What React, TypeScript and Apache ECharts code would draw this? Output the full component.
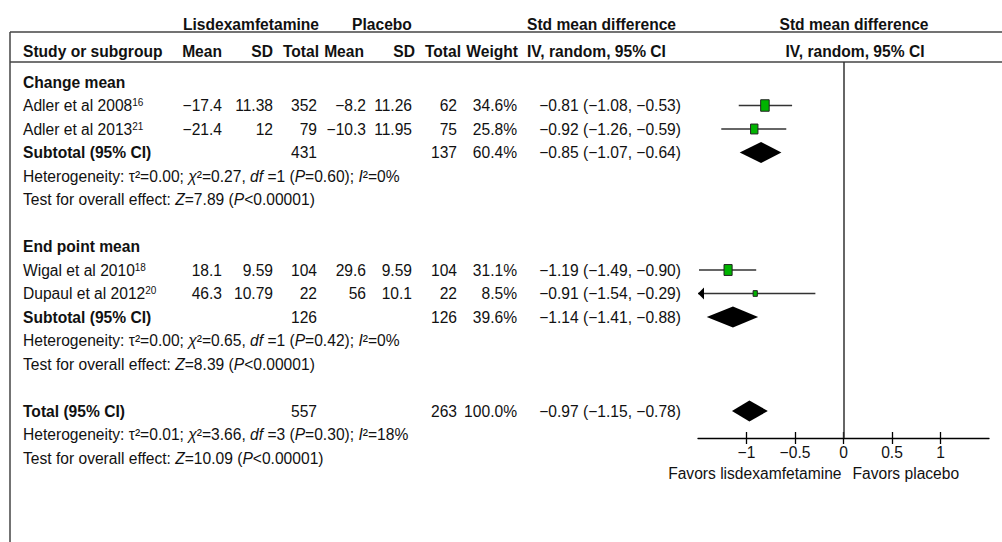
import React, { useEffect, useRef } from "react";
import * as echarts from "echarts";

const FONT = 'Arial, "Liberation Sans", Helvetica, sans-serif';
const FS = 15.6;

// ---- data ----
const groupNames = ["Change mean", "End point mean"];
const groupStudies = [[0, 1], [2, 3]];

const studyNames = ["Adler et al 2008", "Adler et al 2013", "Wigal et al 2010", "Dupaul et al 2012"];
const studyRefs = ["16", "21", "18", "20"];
const lisMean = [-17.4, -21.4, 18.1, 46.3];
const lisSD = [11.38, 12, 9.59, 10.79];
const lisN = [352, 79, 104, 22];
const plaMean = [-8.2, -10.3, 29.6, 56];
const plaSD = [11.26, 11.95, 9.59, 10.1];
const plaN = [62, 75, 104, 22];
const studyWeight = [34.6, 25.8, 31.1, 8.5];
const studySmd = [-0.81, -0.92, -1.19, -0.91];
const studyLow = [-1.08, -1.26, -1.49, -1.54];
const studyHigh = [-0.53, -0.59, -0.9, -0.29];

const subLisN = [431, 126];
const subPlaN = [137, 126];
const subWeight = [60.4, 39.6];
const subSmd = [-0.85, -1.14];
const subLow = [-1.07, -1.41];
const subHigh = [-0.64, -0.88];
const subTau = [0.0, 0.0];
const subChi = [0.27, 0.65];
const subDf = [1, 1];
const subP = [0.6, 0.42];
const subI2 = [0, 0];
const subZ = [7.89, 8.39];

const totalLisN = 557;
const totalPlaN = 263;
const totalWeight = 100.0;
const totalSmd = -0.97;
const totalLow = -1.15;
const totalHigh = -0.78;
const totalTau = 0.01;
const totalChi = 3.66;
const totalDf = 3;
const totalP = 0.3;
const totalI2 = 18;
const totalZ = 10.09;

const xTicks = [-1, -0.5, 0, 0.5, 1];
const X_MIN = -1.5;
const X_MAX = 1.5;

// ---- layout ----
const ROW0 = 82;
const PITCH = 23.5;
const GRID_LEFT = 698;
const GRID_W = 291;
const GRID_TOP = 62;
const AXIS_Y = 438;
const rowY = (s: number) => ROW0 + s * PITCH;

const m = (s: string) => s.replace(/-/g, "\u2212");
const num = (v: number) => m(String(v));
const ci = (e: number, l: number, h: number) =>
  `${m(e.toFixed(2))} (${m(l.toFixed(2))}, ${m(h.toFixed(2))})`;
const pct = (w: number) => w.toFixed(1) + "%";

const rich = {
  i: { fontSize: FS, fontFamily: FONT, fontStyle: "italic", fill: "#111" },
  sup: { fontSize: 10, fontFamily: FONT, fill: "#111", verticalAlign: "top" },
  n: { fontSize: FS, fontFamily: FONT, fill: "#111" },
};

const hetText = (tau: number, chi: number, df: number, p: number, i2: number) =>
  `Heterogeneity: \u03c4\u00b2=${tau.toFixed(2)}; {i|\u03c7}\u00b2=${chi.toFixed(2)}, {i|df} =${df} ({i|P}=${p.toFixed(2)}); {i|I}\u00b2=${i2}%`;
const testText = (z: number) => `Test for overall effect: {i|Z}=${z.toFixed(2)} ({i|P}<0.00001)`;

function txt(text: string, x: number, y: number, o: any = {}) {
  return {
    type: "text",
    x,
    y,
    silent: true,
    style: {
      text,
      fontSize: o.size || FS,
      fontFamily: FONT,
      fontWeight: o.bold ? "bold" : "normal",
      fill: "#111",
      align: o.align || "left",
      verticalAlign: "middle",
      rich: o.rich ? rich : undefined,
    },
  };
}

function hline(x1: number, y1: number, x2: number, y2: number) {
  return {
    type: "line",
    silent: true,
    shape: { x1, y1, x2, y2 },
    style: { stroke: "#444", lineWidth: 1.5 },
  };
}

export default function App() {
  const ref = useRef<HTMLDivElement>(null);
  useEffect(() => {
    if (!ref.current) return;
    const chart = echarts.init(ref.current, undefined, { renderer: "svg" });

    const COL = { mean1: 222, sd1: 273, n1: 317, mean2: 366, sd2: 412, n2: 457, w: 517, ci: 681 };
    const HCOL = { mean1: 222, sd1: 273, n1: 319, mean2: 364, sd2: 415, n2: 461, w: 518 };
    const graphics: any[] = [];
    // frame lines
    graphics.push(hline(10, 32, 1002, 32));
    graphics.push(hline(10, 62, 1002, 62));
    graphics.push(hline(10, 32, 10, 542));
    // headers
    graphics.push(txt("Lisdexamfetamine", 251, 24, { bold: true, align: "center" }));
    graphics.push(txt("Placebo", 382, 24, { bold: true, align: "center" }));
    graphics.push(txt("Std mean difference", 527, 24, { bold: true }));
    graphics.push(txt("Std mean difference", 854, 24, { bold: true, align: "center" }));
    graphics.push(txt("Study or subgroup", 23, 51, { bold: true }));
    graphics.push(txt("Mean", HCOL.mean1, 51, { bold: true, align: "right" }));
    graphics.push(txt("SD", HCOL.sd1, 51, { bold: true, align: "right" }));
    graphics.push(txt("Total", HCOL.n1, 51, { bold: true, align: "right" }));
    graphics.push(txt("Mean", HCOL.mean2, 51, { bold: true, align: "right" }));
    graphics.push(txt("SD", HCOL.sd2, 51, { bold: true, align: "right" }));
    graphics.push(txt("Total", HCOL.n2, 51, { bold: true, align: "right" }));
    graphics.push(txt("Weight", HCOL.w, 51, { bold: true, align: "right" }));
    graphics.push(txt("IV, random, 95% CI", 527, 51, { bold: true }));
    graphics.push(txt("IV, random, 95% CI", 855, 51, { bold: true, align: "center" }));

    const forestData: any[] = [];
    let slot = 0;
    groupNames.forEach((g, gi) => {
      graphics.push(txt(g, 23, rowY(slot), { bold: true }));
      slot++;
      groupStudies[gi].forEach((si) => {
        const y = rowY(slot);
        graphics.push(txt(`{n|${studyNames[si]}}{sup|${studyRefs[si]}}`, 23, y, { rich: true }));
        graphics.push(txt(num(lisMean[si]), COL.mean1, y, { align: "right" }));
        graphics.push(txt(num(lisSD[si]), COL.sd1, y, { align: "right" }));
        graphics.push(txt(num(lisN[si]), COL.n1, y, { align: "right" }));
        graphics.push(txt(num(plaMean[si]), COL.mean2, y, { align: "right" }));
        graphics.push(txt(num(plaSD[si]), COL.sd2, y, { align: "right" }));
        graphics.push(txt(num(plaN[si]), COL.n2, y, { align: "right" }));
        graphics.push(txt(pct(studyWeight[si]), COL.w, y, { align: "right" }));
        graphics.push(txt(ci(studySmd[si], studyLow[si], studyHigh[si]), COL.ci, y, { align: "right" }));
        forestData.push([studySmd[si], studyLow[si], studyHigh[si], slot, studyWeight[si], 0]);
        slot++;
      });
      const y = rowY(slot);
      graphics.push(txt("Subtotal (95% CI)", 23, y, { bold: true }));
      graphics.push(txt(num(subLisN[gi]), COL.n1, y, { align: "right" }));
      graphics.push(txt(num(subPlaN[gi]), COL.n2, y, { align: "right" }));
      graphics.push(txt(pct(subWeight[gi]), COL.w, y, { align: "right" }));
      graphics.push(txt(ci(subSmd[gi], subLow[gi], subHigh[gi]), COL.ci, y, { align: "right" }));
      forestData.push([subSmd[gi], subLow[gi], subHigh[gi], slot, subWeight[gi], 1]);
      slot++;
      graphics.push(txt(hetText(subTau[gi], subChi[gi], subDf[gi], subP[gi], subI2[gi]), 23, rowY(slot), { rich: true }));
      slot++;
      graphics.push(txt(testText(subZ[gi]), 23, rowY(slot), { rich: true }));
      slot++;
      slot++; // blank line
    });
    {
      const y = rowY(slot);
      graphics.push(txt("Total (95% CI)", 23, y, { bold: true }));
      graphics.push(txt(num(totalLisN), COL.n1, y, { align: "right" }));
      graphics.push(txt(num(totalPlaN), COL.n2, y, { align: "right" }));
      graphics.push(txt(pct(totalWeight), COL.w, y, { align: "right" }));
      graphics.push(txt(ci(totalSmd, totalLow, totalHigh), COL.ci, y, { align: "right" }));
      forestData.push([totalSmd, totalLow, totalHigh, slot, totalWeight, 1]);
      slot++;
      graphics.push(txt(hetText(totalTau, totalChi, totalDf, totalP, totalI2), 23, rowY(slot), { rich: true }));
      slot++;
      graphics.push(txt(testText(totalZ), 23, rowY(slot), { rich: true }));
    }

    const zeroX = GRID_LEFT + ((0 - X_MIN) / (X_MAX - X_MIN)) * GRID_W;
    graphics.push(txt("Favors lisdexamfetamine", zeroX - 2, 473, { align: "right" }));
    graphics.push(txt("Favors placebo", zeroX + 9, 473));

    const yMin = (GRID_TOP - ROW0) / PITCH;
    const yMax = (AXIS_Y - ROW0) / PITCH;

    const tickFmt = (v: number) => (v < 0 ? "\u2212" + Math.abs(v) : String(v));

    chart.setOption({
      animation: false,
      backgroundColor: "#fff",
      grid: {
        left: GRID_LEFT,
        top: GRID_TOP,
        width: GRID_W,
        height: AXIS_Y - GRID_TOP,
        containLabel: false,
        outerBoundsMode: "none",
      },
      xAxis: [
        {
          type: "value",
          min: X_MIN,
          max: X_MAX,
          interval: 0.5,
          position: "bottom",
          axisLine: { show: true, onZero: false, lineStyle: { color: "#000", width: 1.3 } },
          axisTick: { show: true, inside: false, length: 6, customValues: xTicks, lineStyle: { color: "#000", width: 1.3 } },
          axisLabel: {
            show: true,
            customValues: xTicks,
            formatter: tickFmt,
            fontSize: FS,
            fontFamily: FONT,
            color: "#111",
            margin: 6,
          },
          splitLine: { show: false },
        },
        {
          type: "value",
          min: X_MIN,
          max: X_MAX,
          interval: 0.5,
          position: "bottom",
          axisLine: { show: false, onZero: false },
          axisTick: { show: true, inside: true, length: 6, customValues: xTicks, lineStyle: { color: "#000", width: 1.3 } },
          axisLabel: { show: false },
          splitLine: { show: false },
        },
      ],
      yAxis: {
        type: "value",
        inverse: true,
        min: yMin,
        max: yMax,
        show: false,
        splitLine: { show: false },
      },
      graphic: graphics,
      series: [
        {
          type: "custom",
          xAxisIndex: 0,
          yAxisIndex: 0,
          clip: false,
          encode: { x: [0, 1, 2], y: 3 },
          data: forestData,
          renderItem: (params: any, api: any) => {
            const est = api.value(0);
            const lo = api.value(1);
            const hi = api.value(2);
            const s = api.value(3);
            const w = api.value(4);
            const kind = api.value(5);
            const c = api.coord([est, s]);
            const l = api.coord([Math.max(lo, X_MIN), s]);
            const r = api.coord([Math.min(hi, X_MAX), s]);
            if (kind === 1) {
              const dh = 10.5;
              return {
                type: "polygon",
                shape: { points: [[l[0], c[1]], [c[0], c[1] - dh], [r[0], c[1]], [c[0], c[1] + dh]] },
                style: { fill: "#000" },
              };
            }
            const children: any[] = [
              {
                type: "line",
                shape: { x1: l[0], y1: c[1], x2: r[0], y2: c[1] },
                style: { stroke: "#333", lineWidth: 1.5 },
              },
            ];
            if (lo < X_MIN) {
              children.push({
                type: "polygon",
                shape: { points: [[l[0], c[1]], [l[0] + 6, c[1] - 6], [l[0] + 6, c[1] + 6]] },
                style: { fill: "#000" },
              });
            }
            const sw = 1.45 * Math.sqrt(w);
            const sh = 1.95 * Math.sqrt(w);
            children.push({
              type: "rect",
              shape: { x: c[0] - sw / 2, y: c[1] - sh / 2, width: sw, height: sh },
              style: { fill: "#00b400", stroke: "#222", lineWidth: 1 },
            });
            return { type: "group", children };
          },
          markLine: {
            silent: true,
            symbol: ["none", "none"],
            label: { show: false },
            lineStyle: { color: "#333", width: 1.5, type: "solid" },
            data: [{ xAxis: 0 }],
          },
        },
      ],
    });
    return () => chart.dispose();
  }, []);
  return (
    <div
      ref={ref}
      style={{ position: "absolute", left: 0, top: 0, width: 1002, height: 542, background: "#fff" }}
    />
  );
}
